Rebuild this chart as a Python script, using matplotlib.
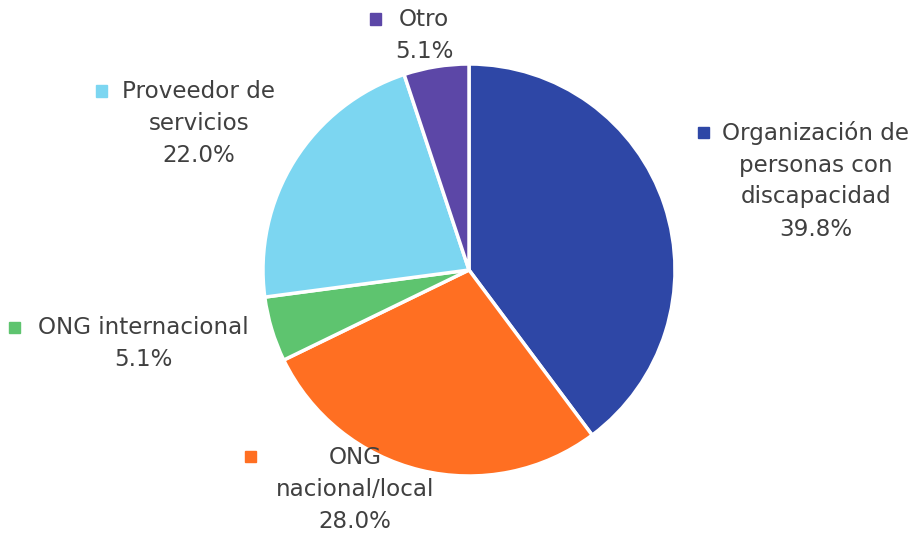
import matplotlib
matplotlib.use("Agg")
import matplotlib.pyplot as plt

categories = ["Organización de\npersonas con\ndiscapacidad", "ONG\nnacional/local",
              "ONG internacional", "Proveedor de\nservicios", "Otro"]
values = [39.8, 28.0, 5.1, 22.0, 5.1]
colors = ["#2E47A6", "#FF6F22", "#5EC46F", "#7CD6F1", "#5C47A7"]

W, H = 914, 533
fig = plt.figure(figsize=(W / 100, H / 100), dpi=100)
plt.rcParams['font.family'] = ['DejaVu Sans']

cx, cy, r = 469, 270, 206
ax = fig.add_axes([(cx - r) / W, (H - cy - r) / H, 2 * r / W, 2 * r / H])
wedges, _ = ax.pie(values, colors=colors, startangle=90, counterclock=False,
                   wedgeprops=dict(edgecolor="white", linewidth=2.5))
for w in wedges:
    w.set_clip_on(False)
ax.set_xlim(-1.0, 1.0)
ax.set_ylim(-1.0, 1.0)
ax.set_aspect("equal")
ax.axis("off")

# label layout: (center x of text, first line y, marker x)
layout = [(816, 133, 703), (355, 457, 250), (143, 328, 14), (199, 92, 101), (424, 20, 375)]
txtcol = "#404040"
fs = 16.6
for cat, val, col, (tx, ty, mx) in zip(categories, values, colors, layout):
    lines = cat.split("\n") + [f"{val:.1f}%"]
    for i, ln in enumerate(lines):
        fig.text(tx / W, 1 - (ty + 32 * i) / H, ln, ha="center", va="center",
                 fontsize=fs, color=txtcol)
    s = 11
    fig.patches.append(plt.Rectangle(((mx - s / 2) / W, 1 - (ty + s / 2 - 1) / H), s / W, s / H,
                                     transform=fig.transFigure, color=col))

fig.savefig("out.png", dpi=100)
